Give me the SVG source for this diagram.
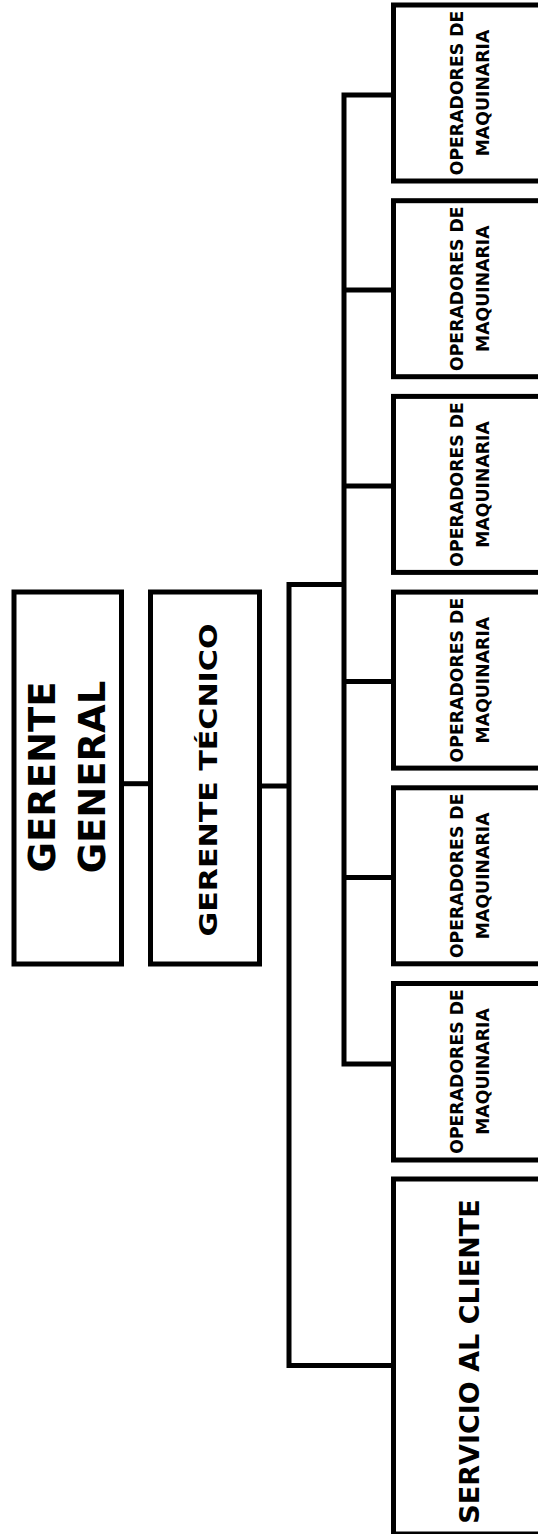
<svg xmlns="http://www.w3.org/2000/svg" width="538" height="1534" viewBox="0 0 538 1534">
<style>
.box{fill:#fff;stroke:#000;stroke-width:5}
.ln{fill:none;stroke:#000;stroke-width:5;stroke-linejoin:miter}
.t{font-family:"DejaVu Sans","Liberation Sans",sans-serif;font-weight:bold;fill:#000;text-anchor:middle}
.op{font-size:17.3px}
</style>
<rect width="538" height="1534" fill="#fff"/>
<g id="connectors">
<path class="ln" d="M121.5 783.7 H150.5"/>
<path class="ln" d="M259.5 786 H289"/>
<path class="ln" d="M344 584.5 H289 V1365.5 H393.5"/>
<path class="ln" d="M393.5 95 H344 V1064 H393.5"/>
<path class="ln" d="M344 290 H393.5"/>
<path class="ln" d="M344 486 H393.5"/>
<path class="ln" d="M344 681.5 H393.5"/>
<path class="ln" d="M344 877.5 H393.5"/>
</g>
<g id="gerente-general">
<rect class="box" x="14" y="592" width="107.5" height="372"/>
<text class="t" font-size="37" transform="translate(55,777) rotate(-90)">GERENTE</text>
<text class="t" font-size="37" transform="translate(105,777) rotate(-90)">GENERAL</text>
</g>
<g id="gerente-tecnico">
<rect class="box" x="150.5" y="592" width="109" height="372"/>
<text class="t" font-size="24" textLength="313" lengthAdjust="spacingAndGlyphs" transform="translate(217,780) rotate(-90)">GERENTE TÉCNICO</text>
</g>
<g id="operadores-1">
<rect class="box" x="393.5" y="5" width="170" height="176"/>
<text class="t op" transform="translate(463,93) rotate(-90)">OPERADORES DE</text>
<text class="t op" transform="translate(489,93) rotate(-90)">MAQUINARIA</text>
</g>
<g id="operadores-2">
<rect class="box" x="393.5" y="200.7" width="170" height="176"/>
<text class="t op" transform="translate(463,288.7) rotate(-90)">OPERADORES DE</text>
<text class="t op" transform="translate(489,288.7) rotate(-90)">MAQUINARIA</text>
</g>
<g id="operadores-3">
<rect class="box" x="393.5" y="396.4" width="170" height="176"/>
<text class="t op" transform="translate(463,484.4) rotate(-90)">OPERADORES DE</text>
<text class="t op" transform="translate(489,484.4) rotate(-90)">MAQUINARIA</text>
</g>
<g id="operadores-4">
<rect class="box" x="393.5" y="592.1" width="170" height="176"/>
<text class="t op" transform="translate(463,680.1) rotate(-90)">OPERADORES DE</text>
<text class="t op" transform="translate(489,680.1) rotate(-90)">MAQUINARIA</text>
</g>
<g id="operadores-5">
<rect class="box" x="393.5" y="787.8" width="170" height="176"/>
<text class="t op" transform="translate(463,875.8) rotate(-90)">OPERADORES DE</text>
<text class="t op" transform="translate(489,875.8) rotate(-90)">MAQUINARIA</text>
</g>
<g id="operadores-6">
<rect class="box" x="393.5" y="983.5" width="170" height="176.5"/>
<text class="t op" transform="translate(463,1071.5) rotate(-90)">OPERADORES DE</text>
<text class="t op" transform="translate(489,1071.5) rotate(-90)">MAQUINARIA</text>
</g>
<g id="servicio-al-cliente">
<rect class="box" x="393.5" y="1179" width="170" height="355"/>
<text class="t" font-size="27" transform="translate(479,1361.5) rotate(-90)">SERVICIO AL CLIENTE</text>
</g>
</svg>
